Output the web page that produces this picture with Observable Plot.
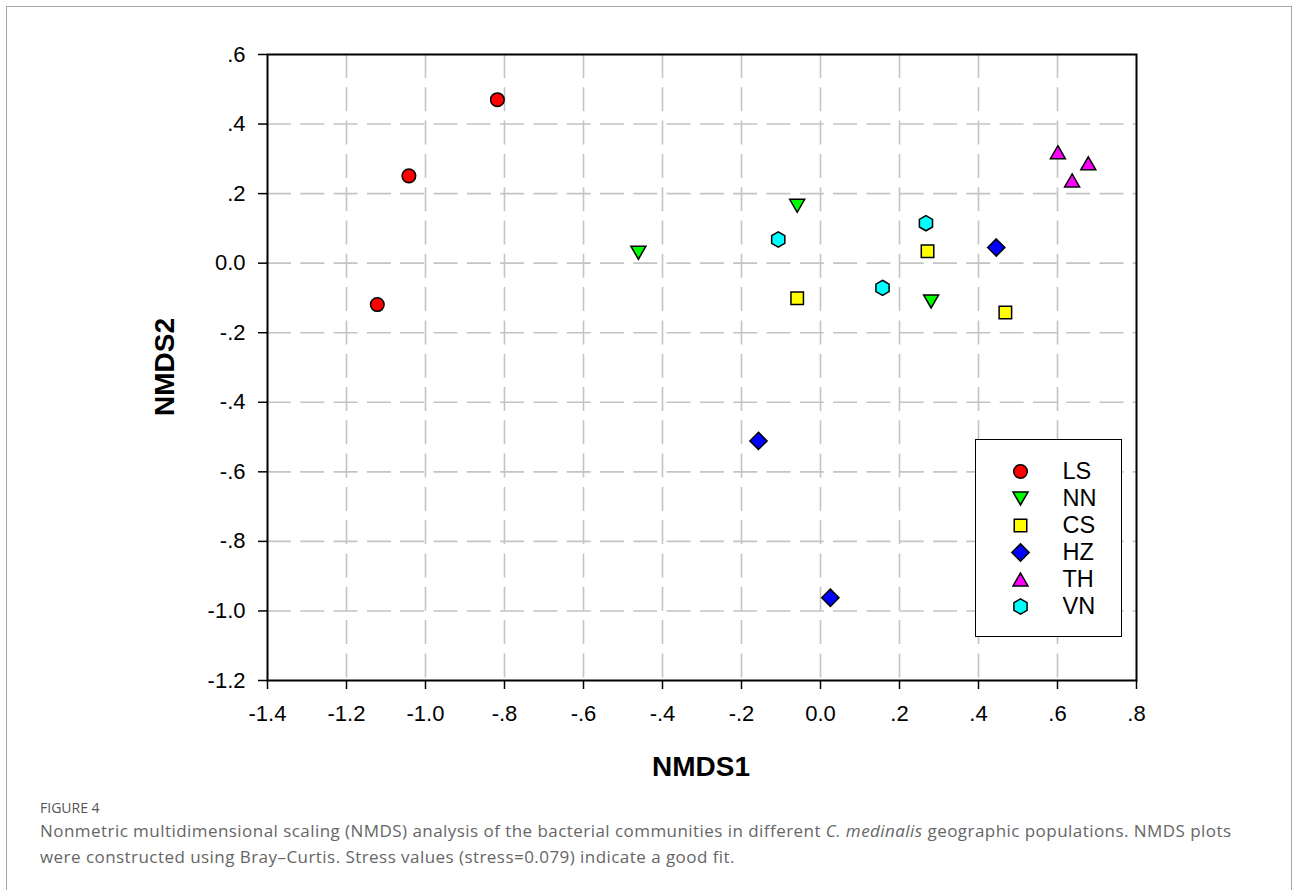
<!DOCTYPE html>
<html><head><meta charset="utf-8">
<script src="https://cdn.jsdelivr.net/npm/d3@7"></script>
<script src="https://cdn.jsdelivr.net/npm/@observablehq/plot@0.6"></script>
<style>
body{margin:0;background:#fff;}
#wrap{position:relative;width:1292px;height:890px;overflow:hidden;font-family:"Liberation Sans",Arial,sans-serif;}
#border{position:absolute;left:6px;top:6px;width:1284px;height:920px;border:1px solid #a6a6a6;}
#chart{position:absolute;left:0;top:0;}
#xtitle{position:absolute;left:601px;width:200px;top:753px;text-align:center;font-weight:bold;font-size:28px;line-height:28px;}
#ytitle{position:absolute;left:64.5px;width:200px;top:353px;text-align:center;font-weight:bold;font-size:28px;line-height:28px;transform:rotate(-90deg);transform-origin:100px 14px;}
#legend{position:absolute;left:975px;top:439px;width:145px;height:196px;border:1.5px solid #000;background:#fff;}
#fig{position:absolute;left:40px;top:798px;font-family:"Open Sans","Noto Sans",sans-serif;font-size:14px;color:#555;}
.cap{position:absolute;left:40px;font-family:"Open Sans","Noto Sans",sans-serif;font-size:17px;letter-spacing:0.45px;color:#666;white-space:nowrap;}
</style></head><body>
<div id="wrap">
 <div id="border"></div>
 <div id="chart"></div>
 <div id="xtitle">NMDS1</div>
 <div id="ytitle">NMDS2</div>
 <div id="legend"></div>
 <div id="fig">FIGURE 4</div>
 <div class="cap" id="cap1" style="top:819px">Nonmetric multidimensional scaling (NMDS) analysis of the bacterial communities in different <i>C. medinalis</i> geographic populations. NMDS plots</div>
 <div class="cap" id="cap2" style="top:845px">were constructed using Bray–Curtis. Stress values (stress=0.079) indicate a good fit.</div>
</div>
<script>
// ---- data ----
const groups = ["LS", "NN", "CS", "HZ", "TH", "VN"];
const groupColors = ["#ff0000", "#00ff00", "#ffff00", "#0000ff", "#ff00ff", "#00ffff"];
const LS_NMDS1 = [-1.122, -1.042, -0.818];
const LS_NMDS2 = [-0.119, 0.251, 0.470];
const NN_NMDS1 = [-0.461, -0.059, 0.280];
const NN_NMDS2 = [0.030, 0.165, -0.110];
const CS_NMDS1 = [-0.059, 0.271, 0.468];
const CS_NMDS2 = [-0.101, 0.034, -0.142];
const HZ_NMDS1 = [-0.157, 0.025, 0.445];
const HZ_NMDS2 = [-0.511, -0.962, 0.045];
const TH_NMDS1 = [0.601, 0.637, 0.678];
const TH_NMDS2 = [0.319, 0.238, 0.287];
const VN_NMDS1 = [-0.107, 0.157, 0.267];
const VN_NMDS2 = [0.068, -0.071, 0.115];
const xTicks = [-1.4, -1.2, -1.0, -0.8, -0.6, -0.4, -0.2, 0, 0.2, 0.4, 0.6, 0.8];
const xTickLabels = ["-1.4", "-1.2", "-1.0", "-.8", "-.6", "-.4", "-.2", "0.0", ".2", ".4", ".6", ".8"];
const yTicks = [-1.2, -1.0, -0.8, -0.6, -0.4, -0.2, 0, 0.2, 0.4, 0.6];
const yTickLabels = ["-1.2", "-1.0", "-.8", "-.6", "-.4", "-.2", "0.0", ".2", ".4", ".6"];

// ---- symbols ----
const s3 = Math.sqrt(3);
const symCircle = {draw(c){ const r = 6.8; c.moveTo(r, 0); c.arc(0, 0, r, 0, 2 * Math.PI); c.closePath(); }};
const symTriDown = {draw(c){ const s = 15, h = s * s3 / 2; c.moveTo(-s/2, -h/2); c.lineTo(s/2, -h/2); c.lineTo(0, h/2); c.closePath(); }};
const symSquare = {draw(c){ const a = 12.5; c.moveTo(-a/2, -a/2); c.lineTo(a/2, -a/2); c.lineTo(a/2, a/2); c.lineTo(-a/2, a/2); c.closePath(); }};
const symDiamond = {draw(c){ const d = 8.6; c.moveTo(0, -d); c.lineTo(d, 0); c.lineTo(0, d); c.lineTo(-d, 0); c.closePath(); }};
const symTriUp = {draw(c){ const s = 15, h = s * s3 / 2; c.moveTo(0, -h/2); c.lineTo(s/2, h/2); c.lineTo(-s/2, h/2); c.closePath(); }};
const symHex = {draw(c){ const R = 7.6; for (let k = 0; k < 6; k++){ const a = -Math.PI/2 + k * Math.PI/3; const px = R*Math.cos(a), py = R*Math.sin(a); k ? c.lineTo(px, py) : c.moveTo(px, py);} c.closePath(); }};
const groupSymbols = [symCircle, symTriDown, symSquare, symDiamond, symTriUp, symHex];

const seriesX = [LS_NMDS1, NN_NMDS1, CS_NMDS1, HZ_NMDS1, TH_NMDS1, VN_NMDS1];
const seriesY = [LS_NMDS2, NN_NMDS2, CS_NMDS2, HZ_NMDS2, TH_NMDS2, VN_NMDS2];

function fmt(ticks, labels){ return d => { const i = ticks.findIndex(t => Math.abs(t - d) < 1e-9); return i >= 0 ? labels[i] : ""; }; }

const gridStyle = {stroke: "#c4c4c4", strokeWidth: 1.6, strokeOpacity: 1, strokeDasharray: "24,9.3"};
const dotMarks = groups.map((g, gi) => Plot.dot(
  seriesX[gi].map((v, i) => ({x: v, y: seriesY[gi][i], group: g})),
  {x: "x", y: "y", symbol: groupSymbols[gi], fill: groupColors[gi], stroke: "black", strokeWidth: 1.5, r: 7}
));

const chart = Plot.plot({
  width: 1292, height: 800,
  marginLeft: 267, marginTop: 54, marginRight: 156, marginBottom: 120,
  x: {domain: [-1.4, 0.8]},
  y: {domain: [-1.2, 0.6]},
  style: {fontFamily: '"Liberation Sans", Arial, sans-serif', fontSize: "22px", color: "black", background: "transparent"},
  marks: [
    Plot.ruleX(xTicks.slice(1, -1), gridStyle),
    Plot.ruleY(yTicks.slice(1, -1), gridStyle),
    Plot.axisX({ticks: xTicks, tickFormat: fmt(xTicks, xTickLabels), tickSize: 9, tickPadding: 16, fontSize: 22, strokeWidth: 1.5, label: null}),
    Plot.axisY({ticks: yTicks, tickFormat: fmt(yTicks, yTickLabels), tickSize: 9, tickPadding: 13, fontSize: 22, strokeWidth: 1.5, label: null}),
    Plot.frame({stroke: "black", strokeWidth: 2}),
    ...dotMarks
  ]
});
document.getElementById("chart").append(chart);

// ---- legend ----
const lg = d3.select("#legend").append("svg").attr("width", 145).attr("height", 196)
  .style("position", "absolute").style("left", "0px").style("top", "0px");
groups.forEach((g, i) => {
  const cy = 31.5 + i * 27;
  const p = d3.path(); groupSymbols[i].draw(p);
  lg.append("path").attr("d", p.toString()).attr("transform", `translate(44.5,${cy})`)
    .attr("fill", groupColors[i]).attr("stroke", "black").attr("stroke-width", 1.5);
  lg.append("text").attr("x", 86.5).attr("y", cy + 7.5).text(g)
    .attr("font-family", '"Liberation Sans", Arial, sans-serif').attr("font-size", 23.5).attr("fill", "black");
});
</script>
</body></html>
